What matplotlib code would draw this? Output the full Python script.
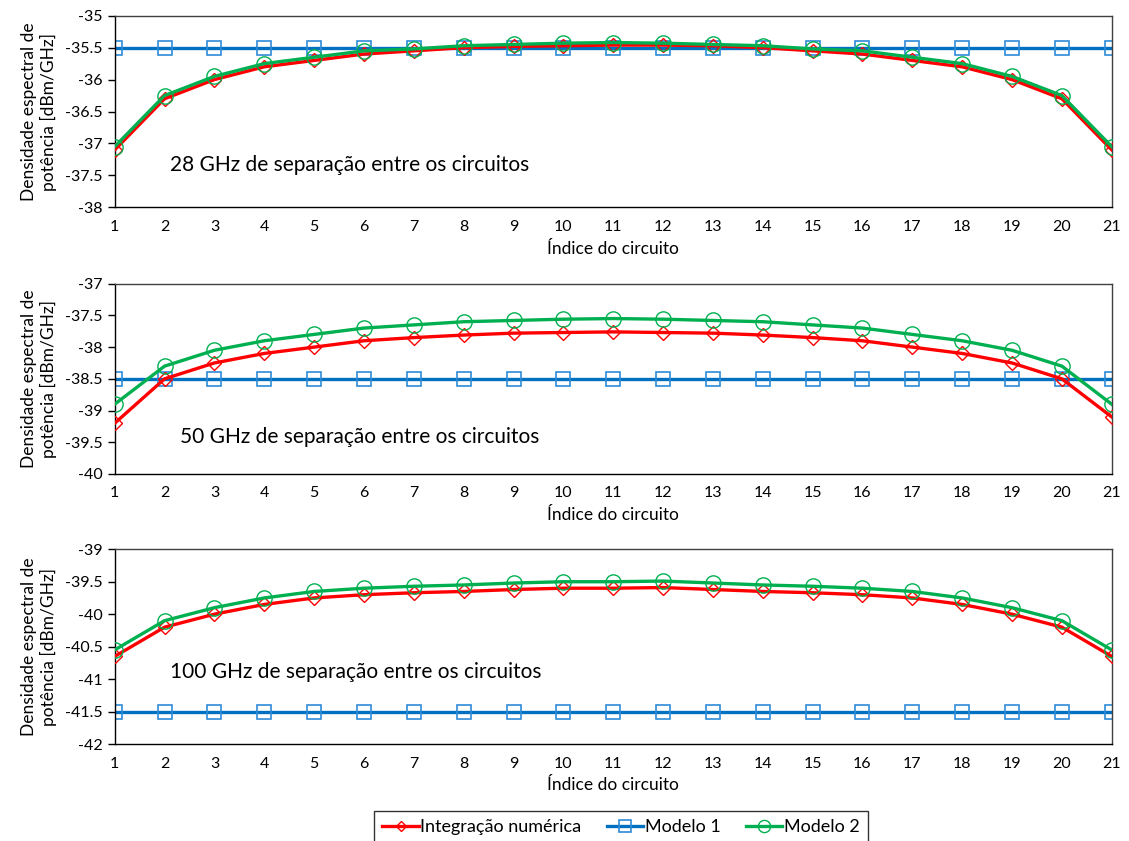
import matplotlib
matplotlib.use('Agg')
from matplotlib import pyplot as plt

plt.rcParams['font.family'] = ['Lato', 'DejaVu Sans']

# Data
circuits = list(range(1, 22))

# 28 GHz
integ_28 = [-37.1, -36.3, -36.0, -35.8, -35.7, -35.6, -35.55, -35.5, -35.48, -35.47, -35.46,
            -35.46, -35.47, -35.5, -35.55, -35.6, -35.7, -35.8, -36.0, -36.3, -37.1]
mod1_28 = [-35.5] * 21
mod2_28 = [-37.05, -36.25, -35.95, -35.75, -35.65, -35.55, -35.52, -35.47, -35.45, -35.43, -35.42,
           -35.43, -35.45, -35.47, -35.52, -35.55, -35.65, -35.75, -35.95, -36.25, -37.05]

# 50 GHz
integ_50 = [-39.2, -38.5, -38.25, -38.1, -38.0, -37.9, -37.85, -37.81, -37.78, -37.77, -37.76,
            -37.77, -37.78, -37.81, -37.85, -37.9, -38.0, -38.1, -38.25, -38.5, -39.1]
mod1_50 = [-38.5] * 21
mod2_50 = [-38.9, -38.3, -38.05, -37.9, -37.8, -37.7, -37.65, -37.6, -37.58, -37.56, -37.55,
           -37.56, -37.58, -37.6, -37.65, -37.7, -37.8, -37.9, -38.05, -38.3, -38.9]

# 100 GHz
integ_100 = [-40.65, -40.2, -40.0, -39.85, -39.75, -39.7, -39.67, -39.65, -39.62, -39.6, -39.6,
             -39.59, -39.62, -39.65, -39.67, -39.7, -39.75, -39.85, -40.0, -40.2, -40.65]
mod1_100 = [-41.5] * 21
mod2_100 = [-40.55, -40.1, -39.9, -39.75, -39.65, -39.6, -39.57, -39.55, -39.52, -39.5, -39.5,
            -39.49, -39.52, -39.55, -39.57, -39.6, -39.65, -39.75, -39.9, -40.1, -40.55]

panels = [
    ('28 GHz de separação entre os circuitos', integ_28, mod1_28, mod2_28, (-38, -35), (2.1, -37.33)),
    ('50 GHz de separação entre os circuitos', integ_50, mod1_50, mod2_50, (-40, -37), (2.3, -39.42)),
    ('100 GHz de separação entre os circuitos', integ_100, mod1_100, mod2_100, (-42, -39), (2.1, -40.89)),
]

# axes boxes in figure fraction (left, bottom, width, height)
boxes = [
    (0.1016, 0.7535, 0.8831, 0.2278),
    (0.1016, 0.4364, 0.8831, 0.2263),
    (0.1016, 0.1153, 0.8831, 0.2316),
]

RED = '#FF0000'
BLUE = '#0070C0'
GREEN = '#00B050'

fig = plt.figure(figsize=(11.29, 8.41), dpi=100)

handles = None
for (label, integ, mod1, mod2, ylim, txt), box in zip(panels, boxes):
    ax = fig.add_axes(box)
    h1, = ax.plot(circuits, integ, color=RED, lw=2.4, marker='D', ms=7,
                  mfc='none', mec=RED, mew=1.0, label='Integração numérica', zorder=3)
    h2, = ax.plot(circuits, mod1, color=BLUE, lw=2.4, marker='s', ms=10,
                  mfc='none', mec='#2E8BD8', mew=1.2, label='Modelo 1', zorder=2)
    h3, = ax.plot(circuits, mod2, color=GREEN, lw=2.4, marker='o', ms=11,
                  mfc='none', mec=GREEN, mew=1.0, label='Modelo 2', zorder=4)
    handles = [h1, h2, h3]

    ax.set_xlim(1, 21)
    ax.set_ylim(*ylim)
    ax.set_xticks(circuits)
    yt = [ylim[0] + 0.5 * i for i in range(7)]
    ax.set_yticks(yt)
    ax.set_yticklabels(['%g' % v for v in yt])
    ax.tick_params(axis='x', length=0, pad=9, labelsize=11.5)
    ax.tick_params(axis='y', length=5, width=1, direction='out', labelsize=11.5)
    for sp in ax.spines.values():
        sp.set_color('#404040')
        sp.set_linewidth(1.0)
    ax.spines['left'].set_color('black')
    ax.spines['bottom'].set_color('black')
    ax.set_xlabel('Índice do circuito', fontsize=12.5, labelpad=5)
    ax.set_ylabel('Densidade espectral de\npotência [dBm/GHz]', fontsize=12.5, labelpad=6)
    ax.text(txt[0], txt[1], label, fontsize=15, va='center', ha='left')

leg = fig.legend(handles, [h.get_label() for h in handles], loc='upper center',
                 bbox_to_anchor=(0.55, 0.046), ncol=3, frameon=True, fancybox=False,
                 edgecolor='black', fontsize=13, handlelength=2.0, handletextpad=0.1,
                 columnspacing=1.4, borderpad=0.45, markerscale=0.8)
leg.get_frame().set_linewidth(1.0)

fig.savefig('out.png', dpi=100)
